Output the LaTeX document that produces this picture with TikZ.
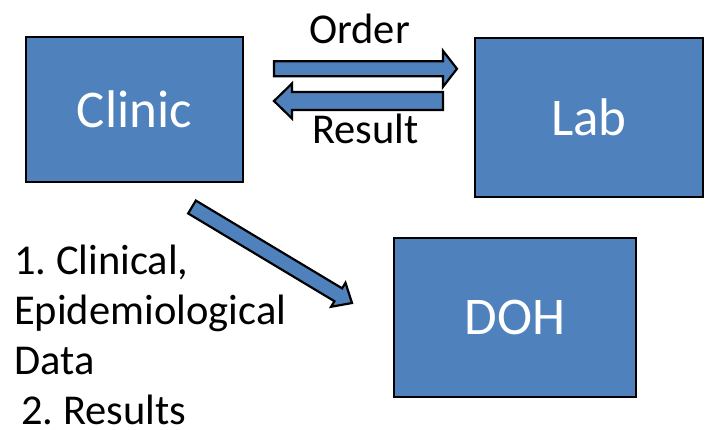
\documentclass[tikz,border=0pt]{standalone}
\usepackage{fontspec}
\setmainfont{Carlito}
\usetikzlibrary{calc}
\definecolor{boxblue}{HTML}{4F81BD}
\frenchspacing
\tikzset{
  blockbox/.style={draw=black, line width=2.2pt, fill=boxblue, text=white, inner sep=0pt,
    font=\fontsize{53}{60}\selectfont},
  barrow/.style={draw=black, line width=2.2pt, fill=boxblue, line join=miter},
  lbl/.style={text=black, inner sep=0pt, font=\fontsize{42.5}{50}\selectfont}
}
% #1 tail, #2 tip, #3 body half width, #4 head half width, #5 head length
\newcommand{\blockarrow}[5]{%
  \coordinate (bh) at ($(#2)!#5!(#1)$);
  \draw[barrow] ($(#1)!#3!90:(#2)$) -- ($(bh)!#3!-90:(#1)$) -- ($(bh)!#4!-90:(#1)$)
    -- (#2) -- ($(bh)!#4!90:(#1)$) -- ($(bh)!#3!90:(#1)$) -- ($(#1)!#3!-90:(#2)$) -- cycle;
}
\begin{document}
\begin{tikzpicture}[x=1pt,y=-1pt]
\useasboundingbox (0,0) rectangle (705,429);
% boxes
\node[blockbox, minimum width=217pt, minimum height=145pt] (clinic) at (134.5,109.5) {Clinic};
\node[blockbox, minimum width=228pt, minimum height=159pt] (lab) at (589,117.5) {Lab};
\node[blockbox, minimum width=242pt, minimum height=159pt] (doh) at (515,317.5) {DOH};
% arrow endpoints
\coordinate (ot) at (274,68.8);
\coordinate (oh) at (457,68.8);
\coordinate (rt) at (443,101);
\coordinate (rh) at (274,101);
\coordinate (dt) at (192,207);
\coordinate (dh) at (352,303);
\blockarrow{ot}{oh}{7.5pt}{18pt}{14pt}
\blockarrow{rt}{rh}{9pt}{17.5pt}{18pt}
\blockarrow{dt}{dh}{7.5pt}{14pt}{16pt}
% labels
\node[lbl, anchor=base] (order) at (359.5,43) {Order};
\node[lbl, anchor=base] (result) at (365.5,143) {Result};
\node[lbl, anchor=base west, align=left] (data) at (14,424)
  {1. Clinical,\\Epidemiological\\Data\\\hspace{7pt}2. Results};
\end{tikzpicture}
\end{document}
